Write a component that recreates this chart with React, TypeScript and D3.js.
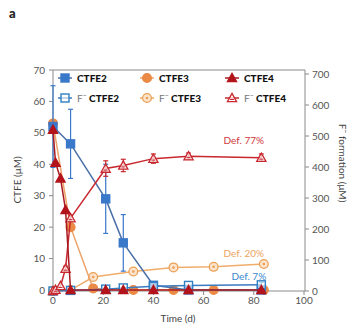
import React from "react";
import * as d3 from "d3";

// ---- data ----
const tCTFE2 = [0, 7, 21, 28, 40, 54, 83];
const ctfe2 = [52, 46.5, 29, 15, 1.5, 0, 0];
const ctfe2Err = [13, 11, 11, 9, 1, 0, 0];
const fCtfe2 = [0, 2, 6, 10, 15, 18, 20];
const fCtfe2Err = [0, 0, 0, 0, 0, 0, 8];

const tCTFE3 = [0, 7, 16, 32, 48, 64, 84];
const ctfe3 = [53, 20, 0.5, 0, 0, 0, 0];
const fCtfe3 = [0, 3, 45, 63, 76, 78, 87];
const fCtfe3Err = [0, 0, 0, 0, 0, 0, 0];

const tCTFE4 = [0, 1, 3, 5, 7, 21, 28, 40, 54, 83];
const ctfe4 = [51, 40.5, 35.5, 25.5, 0, 0, 0, 0, 0, 0];
const fCtfe4 = [0, 4, 16, 72, 235, 395, 405, 427, 435, 430];
const fCtfe4Err = [0, 0, 0, 8, 10, 25, 20, 15, 10, 12];

const xTicks = [0, 20, 40, 60, 80, 100];
const yLTicks = [0, 10, 20, 30, 40, 50, 60, 70];
const yRTicks = [0, 100, 200, 300, 400, 500, 600, 700];

const annotations = [
  { text: "Def. 77%", t: 76, v: 475, color: "#d0393c" },
  { text: "Def. 20%", t: 76, v: 110, color: "#eba562" },
  { text: "Def. 7%", t: 78, v: 35, color: "#3a8ad0" },
];

const FONT = "Lato, 'Open Sans', sans-serif";

const x = d3.scaleLinear().domain([0, 100]).range([53, 304]);
const yL = d3.scaleLinear().domain([0, 70]).range([290, 70]);
const yR = d3.scaleLinear().domain([0, 700]).range([291, 74]);

type Shape = "square" | "circle" | "triangle";

function Marker({ shape, cx, cy, fill, stroke, open }: any) {
  if (shape === "square") {
    return <rect x={cx - 4} y={cy - 4} width={8} height={8} fill={open ? "#fff" : fill} fillOpacity={open ? 0.6 : 1} stroke={stroke} strokeWidth={1.4} />;
  }
  if (shape === "circle") {
    return (
      <g>
        <circle cx={cx} cy={cy} r={4.4} fill={open ? "#fbe3cc" : fill} stroke={stroke} strokeWidth={1.3} />
        {open && <circle cx={cx} cy={cy} r={1.3} fill={stroke} />}
      </g>
    );
  }
  const s = 4.6;
  const p = `M${cx},${cy - s} L${cx + s},${cy + s * 0.8} L${cx - s},${cy + s * 0.8} Z`;
  return (
    <g>
      <path d={p} fill={open ? "#fff" : fill} fillOpacity={open ? 0.7 : 1} stroke={stroke} strokeWidth={1.3} strokeLinejoin="miter" />
      {open && <line x1={cx - 2} x2={cx + 2} y1={cy + 1.5} y2={cy + 1.5} stroke={stroke} strokeWidth={1} />}
    </g>
  );
}

function Series({ ts, vs, errs, scale, shape, line, color, open }: any) {
  const lineGen = d3
    .line<number>()
    .x((_, i) => x(ts[i]))
    .y((d) => scale(d));
  return (
    <g>
      <path d={lineGen(vs) || ""} fill="none" stroke={line} strokeWidth={1.5} />
      {errs &&
        vs.map((v: number, i: number) =>
          errs[i] > 0 ? (
            <g key={"e" + i} stroke={color} strokeWidth={1.2}>
              <line x1={x(ts[i])} x2={x(ts[i])} y1={scale(v - errs[i])} y2={scale(v + errs[i])} />
              <line x1={x(ts[i]) - 2.5} x2={x(ts[i]) + 2.5} y1={scale(v - errs[i])} y2={scale(v - errs[i])} />
              <line x1={x(ts[i]) - 2.5} x2={x(ts[i]) + 2.5} y1={scale(v + errs[i])} y2={scale(v + errs[i])} />
            </g>
          ) : null
        )}
      {vs.map((v: number, i: number) => (
        <Marker key={i} shape={shape} cx={x(ts[i])} cy={scale(v)} fill={color} stroke={color} open={open} />
      ))}
    </g>
  );
}

const legendItems = [
  { col: 0, row: 0, shape: "square", color: "#3a78c9", line: "#4a6fa8", open: false, label: "CTFE2" },
  { col: 1, row: 0, shape: "circle", color: "#ea8a45", line: "#eda36a", open: false, label: "CTFE3" },
  { col: 2, row: 0, shape: "triangle", color: "#b3141b", line: "#a81a20", open: false, label: "CTFE4" },
  { col: 0, row: 1, shape: "square", color: "#2f80c4", line: "#3b7bc0", open: true, label: "CTFE2" },
  { col: 1, row: 1, shape: "circle", color: "#eba055", line: "#f0a860", open: true, label: "CTFE3" },
  { col: 2, row: 1, shape: "triangle", color: "#c8282e", line: "#c8282e", open: true, label: "CTFE4" },
];
const legendColX = [65, 147, 232];
const legendRowY = [78, 98];

export default function App() {
  const axisColor = "#8a8a8a";
  const tickText = "#555";
  return (
    <svg width={351} height={328} style={{ display: "block", position: "absolute", left: 0, top: 0 }} fontFamily={FONT}>
      <rect width={351} height={328} fill="#fff" />
      <text x={9} y={18} fontSize={13} fontWeight={900} fill="#222">a</text>

      {/* frame */}
      <g stroke={axisColor} strokeWidth={1} fill="none">
        <line x1={53} x2={53} y1={70} y2={291} />
        <line x1={305} x2={305} y1={70} y2={291} />
        <line x1={53} x2={305} y1={70} y2={70} />
        <line x1={53} x2={305} y1={291} y2={291} />
      </g>

      {/* left ticks */}
      {yLTicks.map((t) => (
        <g key={"l" + t}>
          <line x1={49} x2={53} y1={yL(t)} y2={yL(t)} stroke={axisColor} />
          <text x={45} y={yL(t)} dy="0.35em" fontSize={10} textAnchor="end" fill={tickText}>{t}</text>
        </g>
      ))}
      {/* right ticks */}
      {yRTicks.map((t) => (
        <g key={"r" + t}>
          <line x1={305} x2={309} y1={yR(t)} y2={yR(t)} stroke={axisColor} />
          <text x={312} y={yR(t)} dy="0.35em" fontSize={10} textAnchor="start" fill={tickText}>{t}</text>
        </g>
      ))}
      {/* x ticks */}
      {xTicks.map((t) => (
        <g key={"x" + t}>
          <line x1={x(t)} x2={x(t)} y1={291} y2={295} stroke={axisColor} />
          <text x={x(t)} y={304} fontSize={10} textAnchor="middle" fill={tickText}>{t}</text>
        </g>
      ))}

      <text x={178} y={322} fontSize={10} textAnchor="middle" fill="#444">Time (d)</text>
      <text transform="translate(21,180) rotate(-90)" fontSize={10} textAnchor="middle" fill="#444">CTFE (μM)</text>
      <text transform="translate(339,163) rotate(90)" fontSize={10} textAnchor="middle" fill="#444">
        F<tspan dy={-4} fontSize={7}>−</tspan><tspan dy={4}> formation (μM)</tspan>
      </text>

      {/* series: F- (open) first, then filled */}
      <Series ts={tCTFE3} vs={fCtfe3} errs={fCtfe3Err} scale={yR} shape="circle" line="#f0ad6a" color="#eba055" open />
      <Series ts={tCTFE3} vs={ctfe3} errs={null} scale={yL} shape="circle" line="#eda36a" color="#ea8a45" />
      <Series ts={tCTFE2} vs={ctfe2} errs={ctfe2Err} scale={yL} shape="square" line="#4a6fa8" color="#3a78c9" />
      <Series ts={tCTFE2} vs={fCtfe2} errs={fCtfe2Err} scale={yR} shape="square" line="#3b7bc0" color="#2f80c4" open />
      <Series ts={tCTFE4} vs={fCtfe4} errs={fCtfe4Err} scale={yR} shape="triangle" line="#c8282e" color="#c8282e" open />
      <Series ts={tCTFE4} vs={ctfe4} errs={null} scale={yL} shape="triangle" line="#a81a20" color="#b3141b" />

      {annotations.map((a) => (
        <text key={a.text} x={x(a.t)} y={yR(a.v)} fontSize={10} textAnchor="middle" fill={a.color}>{a.text}</text>
      ))}

      {/* legend */}
      {legendItems.map((it, i) => {
        const cx = legendColX[it.col];
        const cy = legendRowY[it.row];
        return (
          <g key={i}>
            <line x1={cx - 7} x2={cx + 7} y1={cy} y2={cy} stroke={it.line} strokeWidth={1.5} />
            <Marker shape={it.shape as Shape} cx={cx} cy={cy} fill={it.color} stroke={it.color} open={it.open} />
            {it.row === 0 ? (
              <text x={cx + 12} y={cy} dy="0.35em" fontSize={10} fontWeight={900} fill="#111">{it.label}</text>
            ) : (
              <text x={cx + 12} y={cy} dy="0.35em" fontSize={10} fill="#111">
                <tspan fill="#777">F</tspan>
                <tspan fill="#777" dy={-4} fontSize={7}>−</tspan>
                <tspan dy={4} fontWeight={900}> {it.label}</tspan>
              </text>
            )}
          </g>
        );
      })}
    </svg>
  );
}
